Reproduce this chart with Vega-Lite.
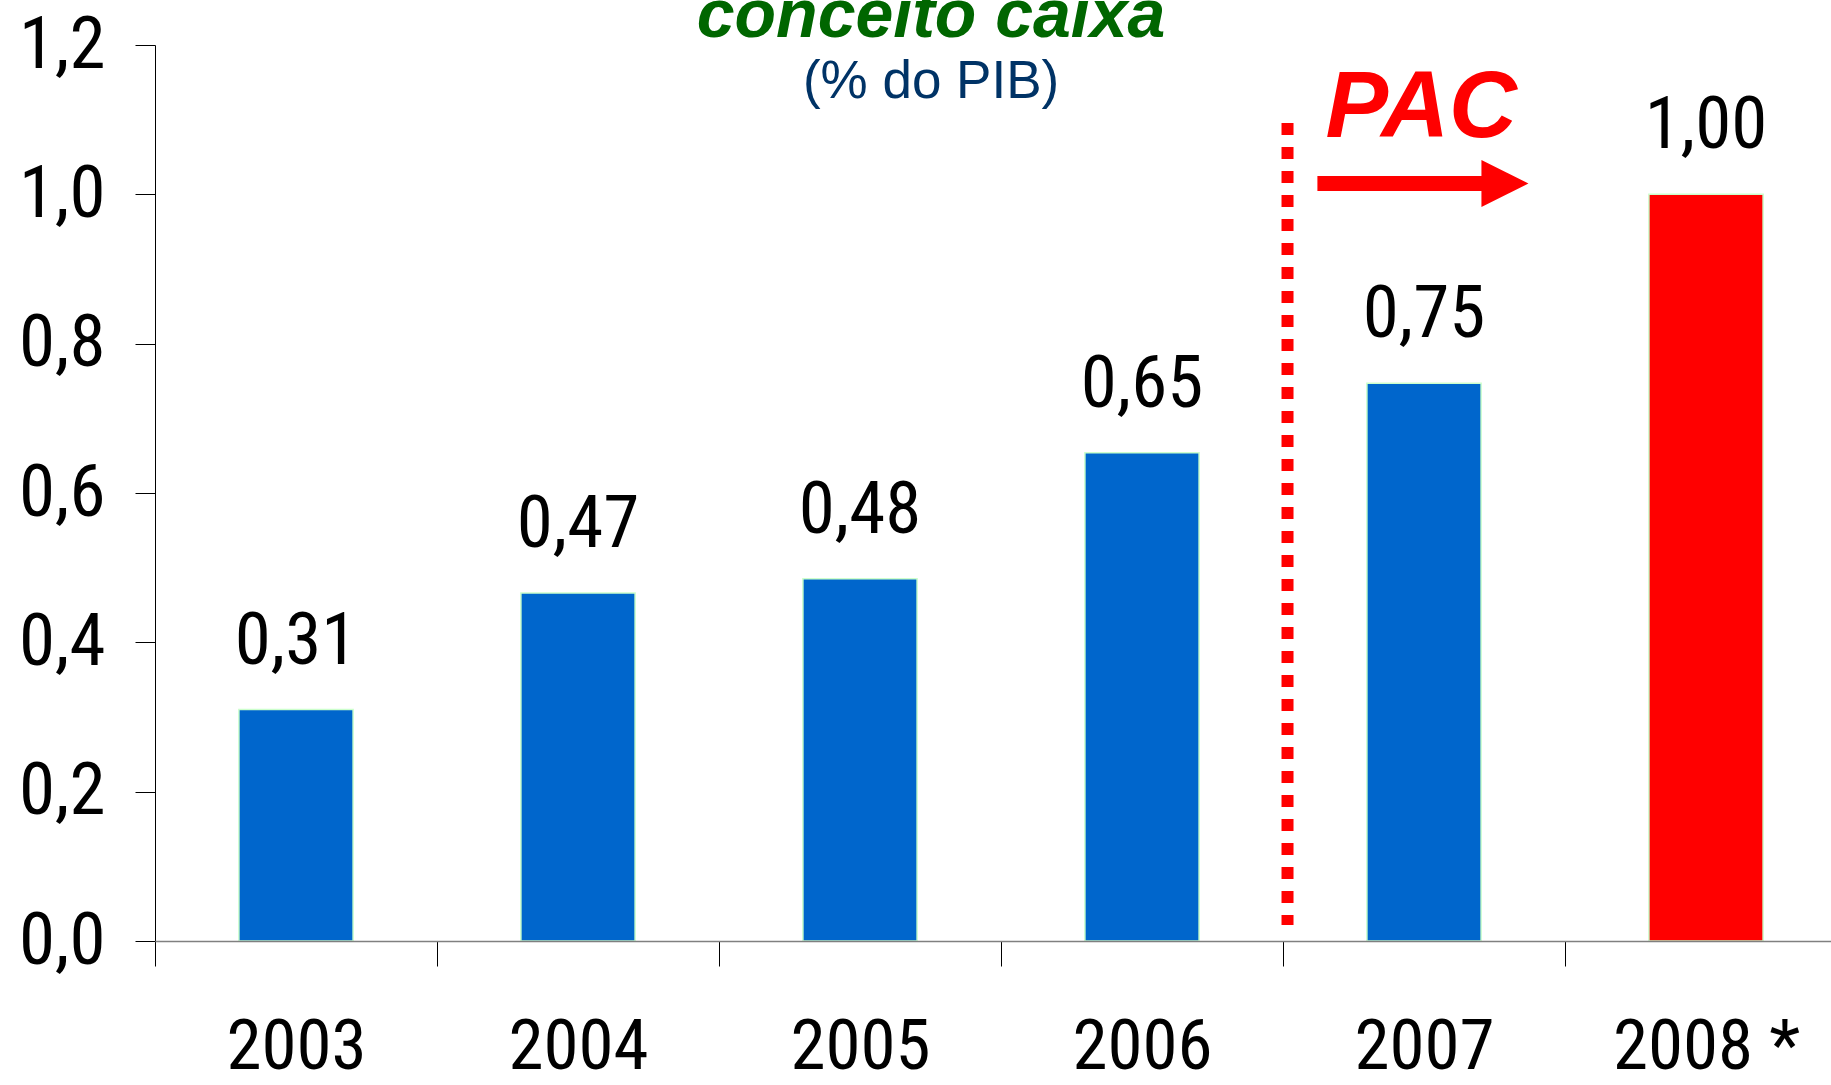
{
  "$schema": "https://vega.github.io/schema/vega-lite/v6.json",
  "width": 1676,
  "height": 896,
  "autosize": {"type": "none"},
  "padding": {"left": 155, "top": 45, "right": 0, "bottom": 144},
  "background": "white",
  "config": {"view": {"stroke": null}},
  "data": {
    "values": [
      {"ano": "2003", "valor": 0.31, "rotulo": "0,31"},
      {"ano": "2004", "valor": 0.466, "rotulo": "0,47"},
      {"ano": "2005", "valor": 0.485, "rotulo": "0,48"},
      {"ano": "2006", "valor": 0.654, "rotulo": "0,65"},
      {"ano": "2007", "valor": 0.747, "rotulo": "0,75"},
      {"ano": "2008 *", "valor": 1.0, "rotulo": "1,00"}
    ]
  },
  "layer": [
    {
      "mark": {"type": "bar", "width": {"band": 0.405}, "stroke": "#ccffcc", "strokeWidth": 1.5},
      "encoding": {
        "x": {
          "field": "ano", "type": "nominal", "sort": null,
          "scale": {"domain": ["2003", "2004", "2005", "2006", "2007", "2008 *"], "range": [0, 1692], "paddingInner": 0, "paddingOuter": 0},
          "axis": {
            "title": null, "labelAngle": 0, "labelFontSize": 71,
            "labelFont": "Roboto Condensed, Noto Sans Condensed, Liberation Sans Narrow, Arial Narrow, DejaVu Sans Condensed, sans-serif",
            "labelColor": "black", "labelPadding": 46, "labelBaseline": "top", "labelLimit": 0,
            "tickBand": "extent", "tickSize": 25, "tickColor": "black", "tickWidth": 1,
            "domainColor": "#808080", "domainWidth": 1.5, "zindex": 1, "labelOverlap": false
          }
        },
        "y": {
          "field": "valor", "type": "quantitative",
          "scale": {"domain": [0, 1.2], "nice": false},
          "axis": {
            "title": null, "grid": false, "values": [0, 0.2, 0.4, 0.6, 0.8, 1.0, 1.2],
            "labelExpr": "replace(format(datum.value, '.1f'), '.', ',')",
            "labelFontSize": 73,
            "labelFont": "Roboto Condensed, Noto Sans Condensed, Liberation Sans Narrow, Arial Narrow, DejaVu Sans Condensed, sans-serif",
            "labelColor": "black", "labelPadding": 30, "tickSize": 20, "tickColor": "black", "labelLimit": 0,
            "tickWidth": 1, "domainColor": "black", "domainWidth": 1, "labelOverlap": false
          }
        },
        "color": {
          "condition": {"test": "datum.ano === '2008 *'", "value": "#ff0000"},
          "value": "#0066cc"
        }
      }
    },
    {
      "mark": {
        "type": "text", "baseline": "alphabetic", "align": "center", "dy": -46, "fontSize": 73,
        "font": "Roboto Condensed, Noto Sans Condensed, Liberation Sans Narrow, Arial Narrow, DejaVu Sans Condensed, sans-serif", "color": "black"
      },
      "encoding": {
        "x": {"field": "ano", "type": "nominal", "sort": null},
        "y": {"field": "valor", "type": "quantitative", "scale": {"domain": [0, 1.2], "nice": false}},
        "text": {"field": "rotulo"}
      }
    },
    {
      "data": {"values": [{"marco": "PAC"}]},
      "mark": {"type": "rule", "color": "#ff0000", "strokeWidth": 12, "strokeDash": [12, 12]},
      "encoding": {
        "x": {"datum": "2007", "bandPosition": 0.016},
        "y": {"datum": 1.0955, "scale": {"domain": [0, 1.2], "nice": false}},
        "y2": {"datum": 0.0214}
      }
    },
    {
      "data": {"values": [{"marco": "PAC"}]},
      "mark": {"type": "rule", "color": "#ff0000", "strokeWidth": 15},
      "encoding": {
        "x": {"datum": "2007", "bandPosition": 0.122},
        "x2": {"datum": "2007", "bandPosition": 0.715},
        "y": {"datum": 1.0145, "scale": {"domain": [0, 1.2], "nice": false}}
      }
    },
    {
      "data": {"values": [{"marco": "PAC"}]},
      "mark": {"type": "point", "shape": "M-1,-1L1,0L-1,1Z", "size": 2209, "filled": true, "color": "#ff0000", "opacity": 1, "strokeWidth": 0},
      "encoding": {
        "x": {"datum": "2007", "bandPosition": 0.787},
        "y": {"datum": 1.0145, "scale": {"domain": [0, 1.2], "nice": false}}
      }
    },
    {
      "data": {"values": [{"marco": "PAC"}]},
      "mark": {"type": "text", "text": "PAC", "font": "Liberation Sans, Arial, sans-serif", "fontStyle": "italic", "fontWeight": "bold", "fontSize": 94, "color": "#ff0000", "align": "center", "baseline": "alphabetic"},
      "encoding": {
        "x": {"datum": "2007", "bandPosition": 0.49},
        "y": {"datum": 1.077, "scale": {"domain": [0, 1.2], "nice": false}}
      }
    },
    {
      "data": {"values": [{"marco": "PAC"}]},
      "mark": {"type": "text", "text": "conceito caixa", "font": "Liberation Sans, Arial, sans-serif", "fontStyle": "italic", "fontWeight": "bold", "fontSize": 68, "color": "#006600", "align": "center", "baseline": "alphabetic"},
      "encoding": {
        "x": {"datum": "2005", "bandPosition": 0.752},
        "y": {"datum": 1.211, "scale": {"domain": [0, 1.2], "nice": false}}
      }
    },
    {
      "data": {"values": [{"marco": "PAC"}]},
      "mark": {"type": "text", "text": "(% do PIB)", "font": "Liberation Sans, Arial, sans-serif", "fontSize": 53, "color": "#003366", "align": "center", "baseline": "alphabetic"},
      "encoding": {
        "x": {"datum": "2005", "bandPosition": 0.752},
        "y": {"datum": 1.129, "scale": {"domain": [0, 1.2], "nice": false}}
      }
    }
  ]
}
